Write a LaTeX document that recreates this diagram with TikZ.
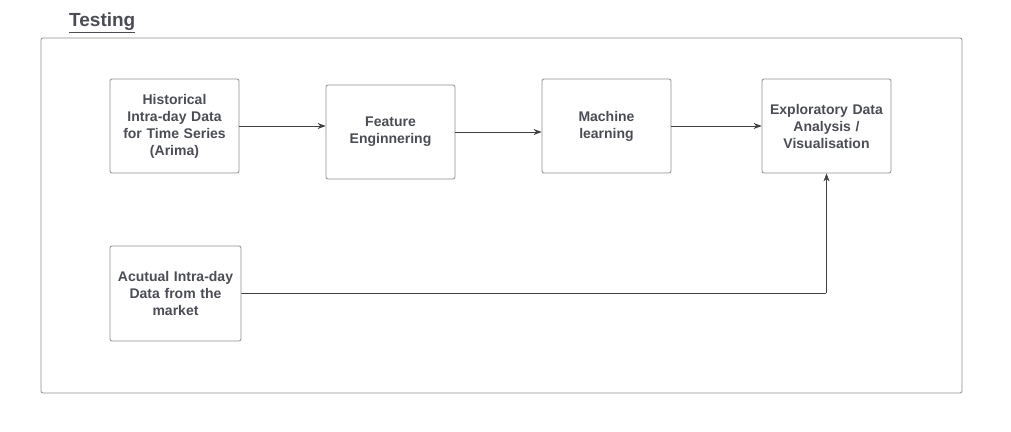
\documentclass[tikz,border=0pt]{standalone}
\usepackage{fontspec}
\setmainfont{Liberation Sans}
\usetikzlibrary{arrows.meta}
\definecolor{txtgray}{HTML}{4B4D55}
\definecolor{linegray}{HTML}{8E8E8E}
\begin{document}
\begin{tikzpicture}[x=1pt,y=-1pt,>={Stealth[length=8pt,width=6pt]},line join=round,
	font=\fontsize{14}{17}\selectfont\bfseries,
	box/.style={draw=linegray,line width=0.8pt,rounded corners=2pt,minimum width=129pt,minimum height=94pt,text width=124pt,align=center,text=txtgray,inner sep=0pt},
	link/.style={->,draw=black!75,line width=0.6pt}]
	\useasboundingbox (0,0) rectangle (1011,431);
	\draw[linegray,line width=0.8pt,rounded corners=2pt] (41,38) rectangle (962,393);
	\node[text=txtgray,font=\fontsize{19}{22}\selectfont\bfseries,anchor=west,inner sep=0pt] (title) at (69,23) {\underline{Testing}};
	% top row
	\node[box] (hist) at (174.5,126) {Historical\\Intra-day Data\\for Time Series\\(Arima)};
	\node[box] (feat) at (390.5,132) {Feature\\Enginnering};
	\node[box] (ml) at (606.5,126) {Machine\\learning};
	\node[box] (eda) at (826.5,126) {Exploratory Data\\Analysis /\\Visualisation};
	% bottom row
	\node[box,minimum width=131pt,minimum height=95pt] (act) at (175.5,293.5) {Acutual Intra-day\\Data from the\\market};
	\draw[link] (hist.east) -- (hist.east -| feat.west);
	\draw[link] (feat.east) -- (feat.east -| ml.west);
	\draw[link] (ml.east) -- (eda.west);
	\draw[link,rounded corners=1pt] (act.east) -- (eda.south |- act.east) -- (eda.south);
\end{tikzpicture}
\end{document}
